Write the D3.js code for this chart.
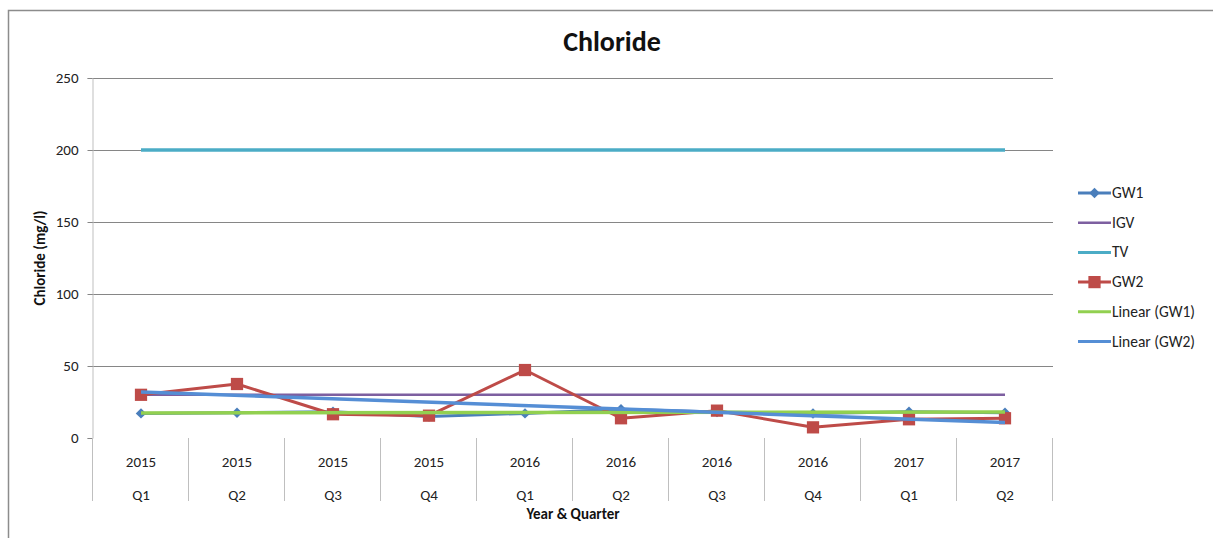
<!DOCTYPE html>
<html>
<head>
<meta charset="utf-8">
<script src="https://cdn.jsdelivr.net/npm/d3@7/dist/d3.min.js"></script>
<style>
  body { margin: 0; background: #fff; }
  svg text { font-family: Carlito, Lato, "Open Sans", sans-serif; }
</style>
</head>
<body>
<svg id="chart" width="1213" height="538"></svg>
<script>
// Sampling periods
const years = ["2015", "2015", "2015", "2015", "2016", "2016", "2016", "2016", "2017", "2017"];
const quarters = ["Q1", "Q2", "Q3", "Q4", "Q1", "Q2", "Q3", "Q4", "Q1", "Q2"];

// Chloride concentrations (mg/l)
const gw1 = [17.1, 17.6, 18.3, 15.0, 17.1, 19.9, 18.0, 17.0, 18.3, 17.6];
const gw2 = [30.0, 37.5, 16.5, 15.5, 47.2, 13.7, 19.0, 7.4, 13.0, 13.7];
const igv = [30, 30, 30, 30, 30, 30, 30, 30, 30, 30];
const tv = [200, 200, 200, 200, 200, 200, 200, 200, 200, 200];

// Linear trend lines: values at first and last period
const trendGW1 = [17.4, 18.1];
const trendGW2 = [31.9, 10.8];

const yTicks = [0, 50, 100, 150, 200, 250];

const svg = d3.select("#chart");
const labelSize = 15;

// Outer chart border
svg.append("rect")
  .attr("x", 8.5).attr("y", 10.5)
  .attr("width", 1300).attr("height", 600)
  .attr("fill", "none").attr("stroke", "#8c8c8c").attr("stroke-width", 1.5);

const plot = { left: 93, right: 1053, top: 78, bottom: 438 };
const idx = d3.range(years.length);

const x = d3.scaleBand().domain(idx).range([plot.left, plot.right]);
const cx = i => x(i) + x.bandwidth() / 2;
const y = d3.scaleLinear().domain([0, 250]).range([plot.bottom, plot.top]);

// Horizontal gridlines
svg.append("g")
  .selectAll("line")
  .data(yTicks.filter(d => d > 0))
  .join("line")
  .attr("x1", plot.left - 5).attr("x2", plot.right)
  .attr("y1", d => Math.round(y(d)) + 0.5).attr("y2", d => Math.round(y(d)) + 0.5)
  .attr("stroke", "#868686").attr("stroke-width", 1);

// Y axis
const yAxis = svg.append("g")
  .attr("transform", `translate(${plot.left - 0.5},0)`)
  .call(d3.axisLeft(y).tickValues(yTicks).tickSize(5).tickPadding(9));
yAxis.select(".domain").attr("stroke", "#bfbfbf");
yAxis.selectAll(".tick line").attr("stroke", "#868686");
yAxis.selectAll(".tick text")
  .attr("font-size", labelSize).attr("fill", "#222")
  .style("font-family", "Carlito, Lato, sans-serif");

// Category axis: separators and two-row labels
const sepPos = idx.map(i => x(i)).concat([plot.right]);
svg.append("g")
  .selectAll("line")
  .data(sepPos)
  .join("line")
  .attr("x1", d => Math.round(d) - 0.5).attr("x2", d => Math.round(d) - 0.5)
  .attr("y1", plot.bottom).attr("y2", 501)
  .attr("stroke", "#bfbfbf").attr("stroke-width", 1);

svg.append("g")
  .selectAll("text")
  .data(idx)
  .join("text")
  .attr("x", i => cx(i)).attr("y", 467)
  .attr("text-anchor", "middle").attr("font-size", labelSize).attr("fill", "#222")
  .text(i => years[i]);

svg.append("g")
  .selectAll("text")
  .data(idx)
  .join("text")
  .attr("x", i => cx(i)).attr("y", 500)
  .attr("text-anchor", "middle").attr("font-size", labelSize).attr("fill", "#222")
  .text(i => quarters[i]);

// Titles
svg.append("text")
  .attr("x", 612).attr("y", 51)
  .attr("text-anchor", "middle").attr("font-size", 28).attr("font-weight", "bold")
  .attr("fill", "#111").text("Chloride");

svg.append("text")
  .attr("transform", `translate(45,${(plot.top + plot.bottom) / 2}) rotate(-90)`)
  .attr("text-anchor", "middle").attr("font-size", 15).attr("font-weight", "bold")
  .attr("fill", "#111").text("Chloride (mg/l)");

svg.append("text")
  .attr("x", (plot.left + plot.right) / 2).attr("y", 519)
  .attr("text-anchor", "middle").attr("font-size", 15).attr("font-weight", "bold")
  .attr("fill", "#111").text("Year & Quarter");

// Series
const line = d3.line().x((d, i) => cx(i)).y(d => y(d));
const lastIdx = idx.length - 1;
const trendLine = d3.line().x((d, i) => cx(i === 0 ? 0 : lastIdx)).y(d => y(d));

const series = [
  { name: "GW1", values: gw1, color: "#4A7EBB", width: 3, marker: "diamond" },
  { name: "IGV", values: igv, color: "#7D5FA0", width: 2.5 },
  { name: "TV", values: tv, color: "#4BACC6", width: 3.5 },
  { name: "GW2", values: gw2, color: "#BE4B48", width: 3, marker: "square" },
  { name: "Linear (GW1)", values: trendGW1, color: "#92D050", width: 3.5, trend: true },
  { name: "Linear (GW2)", values: trendGW2, color: "#558ED5", width: 3.5, trend: true }
];

const diamond = d3.symbol().type(d3.symbolDiamond2).size(70);
const square = d3.symbol().type(d3.symbolSquare).size(150);

series.forEach(s => {
  const g = svg.append("g");
  g.append("path")
    .datum(s.values)
    .attr("d", s.trend ? trendLine : line)
    .attr("fill", "none").attr("stroke", s.color)
    .attr("stroke-width", s.width).attr("stroke-linejoin", "round");
  if (s.marker) {
    g.selectAll("path.m")
      .data(s.values)
      .join("path")
      .attr("class", "m")
      .attr("transform", (d, i) => `translate(${cx(i)},${y(d)})`)
      .attr("d", s.marker === "diamond" ? diamond : square)
      .attr("fill", s.color);
  }
});

// Legend
const legend = svg.append("g");
series.forEach((s, k) => {
  const ly = 193 + k * 29.7;
  const item = legend.append("g");
  item.append("line")
    .attr("x1", 1078).attr("x2", 1111).attr("y1", ly).attr("y2", ly)
    .attr("stroke", s.color).attr("stroke-width", s.name === "IGV" ? 2.5 : 3);
  if (s.marker) {
    item.append("path")
      .attr("transform", `translate(1094.5,${ly})`)
      .attr("d", s.marker === "diamond" ? diamond : square)
      .attr("fill", s.color);
  }
  item.append("text")
    .attr("x", 1112).attr("y", ly + 5)
    .attr("font-size", 15.5).attr("fill", "#222")
    .text(s.name);
});
</script>
</body>
</html>
